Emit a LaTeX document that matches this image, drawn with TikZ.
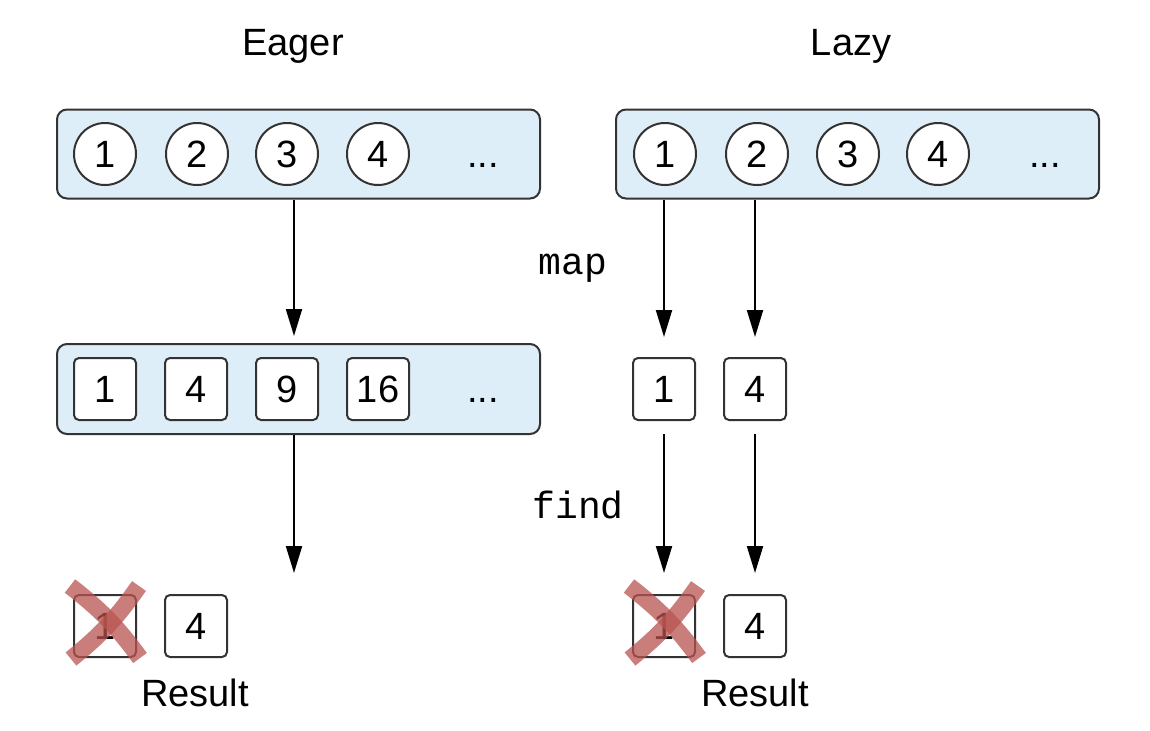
\documentclass[tikz,border=0pt]{standalone}
\usepackage{fontspec}
\setmainfont{Liberation Sans}
\newfontfamily\codefont{Liberation Mono}
\usetikzlibrary{positioning, arrows.meta, calc}
\definecolor{boxblue}{HTML}{DDEEF8}
\definecolor{edgegray}{HTML}{333333}
\definecolor{crossred}{HTML}{B85450}

\begin{document}
\begin{tikzpicture}[x=0.5pt, y=-0.5pt, font=\fontsize{19}{22}\selectfont,
    strip/.style={draw=edgegray, fill=boxblue, line width=1pt, rounded corners=5pt,
                  minimum width=241.5pt, minimum height=44.5pt},
    ball/.style={circle, draw=edgegray, fill=white, line width=1pt, minimum size=31pt,
                 inner sep=0pt, text height=13.6pt, text depth=0pt},
    cell/.style={draw=edgegray, fill=white, line width=1pt, rounded corners=2.5pt,
                 minimum size=31pt, inner sep=0pt, text height=13.6pt, text depth=0pt},
    dots/.style={inner sep=0pt, text height=13.6pt, text depth=0pt},
    arr/.style={-{Triangle[length=13.5pt, width=8pt]}, line width=1pt},
    cross/.style={crossred, opacity=0.75, line width=8.5pt},
    code/.style={font=\codefont\fontsize{19}{22}\selectfont}]
  \useasboundingbox (0,0) rectangle (1150,730);

  % titles
  \node (eagertitle) at (293,46) {Eager};
  \node (lazytitle) at (851,46) {Lazy};

  % source sequences
  \node[strip] (etop) at (298.5,154) {};
  \node[strip] (ltop) at (857.5,154) {};
  \foreach \n/\x in {1/105, 2/197, 3/287, 4/378}
    \node[ball] (ea\n) at (\x,154) {\n};
  \node[dots] (eadots) at (483,154) {...};
  \foreach \n/\x in {1/665, 2/757, 3/848, 4/938}
    \node[ball] (la\n) at (\x,154) {\n};
  \node[dots] (ladots) at (1045,154) {...};

  % mapped values
  \node[strip, minimum height=45pt] (emid) at (298.5,389) {};
  \foreach \n/\v/\x in {1/1/105, 2/4/196, 3/9/287, 4/16/378}
    \node[cell] (em\n) at (\x,389) {\v};
  \node[dots] (emdots) at (483,389) {...};
  \node[cell] (lm1) at (664,389) {1};
  \node[cell] (lm2) at (755,389) {4};

  % results
  \node[cell] (er1) at (105,626) {1};
  \node[cell] (er2) at (196,626) {4};
  \node (eresult) at (195,693) {Result};
  \node[cell] (lr1) at (664,626) {1};
  \node[cell] (lr2) at (755,626) {4};
  \node (lresult) at (755,693) {Result};

  % operation labels
  \node[code] (maplabel) at (573,268) {map};
  \node[code] (findlabel) at (578,505) {find};

  % arrows
  \coordinate (eend) at (294,573);
  \draw[arr, shorten >=3.5pt] (etop.south -| eend) -- (emid.north -| eend);
  \draw[arr] (emid.south -| eend) -- (eend);
  \draw[arr, shorten >=10pt] (ltop.south -| lm1) -- (lm1);
  \draw[arr, shorten >=10pt] (ltop.south -| lm2) -- (lm2);
  \draw[arr, shorten <=6.5pt, shorten >=10.5pt] (lm1) -- (lr1);
  \draw[arr, shorten <=6.5pt, shorten >=10.5pt] (lm2) -- (lr2);

  % rejected elements
  \foreach \c in {er1, lr1} {
    \draw[cross] ($(\c)+(-35,-40)$) to[bend left=8] ($(\c)+(35,32)$);
    \draw[cross] ($(\c)+(-34,33)$) to[bend right=8] ($(\c)+(34,-40)$);
  }
\end{tikzpicture}
\end{document}
